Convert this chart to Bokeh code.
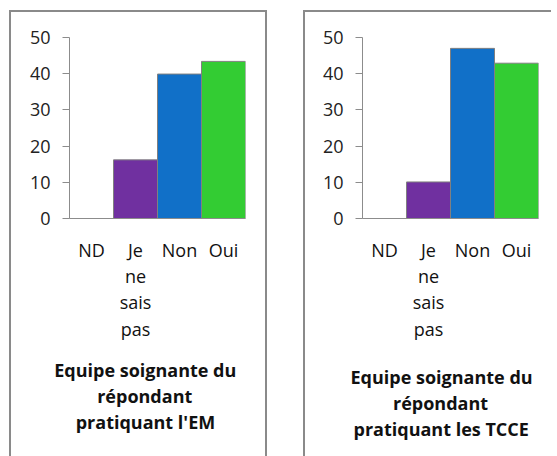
import json
from bokeh.plotting import figure
from bokeh.layouts import row
from bokeh.models import Title, FixedTicker, CustomJSTickFormatter
from bokeh.embed import file_html
from bokeh.resources import INLINE

categories = ["ND", "Je ne sais pas", "Non", "Oui"]
category_labels = {"Je ne sais pas": "Je\nne\nsais\npas"}
values_em = [0.0, 16.2, 39.9, 43.4]
values_tcce = [0.0, 10.1, 47.0, 42.9]
colors = ["#7F7F7F", "#7030A0", "#1170C8", "#33CC33"]
y_ticks = [0, 10, 20, 30, 40, 50]
titles_em = ["Equipe soignante du", "répondant", "pratiquant  l'EM"]
titles_tcce = ["Equipe soignante du", "répondant", "pratiquant  les TCCE"]

FONT = "Open Sans"
BORDER = "2px solid #8A8A8A"
H = 480          # canvas taller than the window; the row clips it at the window's edge
VISIBLE_H = 446
LINE_H = 26      # height of one 18px title line


def make_panel(values, title_lines, title_widths, title_center, width, left, right,
               title_shift, extra_gap, styles):
    p = figure(x_range=categories, y_range=(0, 50), width=width, height=H,
               output_backend="svg", toolbar_location=None,
               min_border_left=left, min_border_right=right,
               min_border_top=25, min_border_bottom=H - 25 - 181)
    p.styles = styles
    p.x_range.range_padding = 0
    p.vbar(x=categories, top=values, width=1.0, fill_color=colors,
           line_color="#808080", line_width=1)
    p.xgrid.visible = False
    p.ygrid.visible = False
    p.outline_line_color = None

    ya = p.yaxis[0]
    ya.ticker = FixedTicker(ticks=y_ticks)
    ya.axis_line_color = "#8C8C8C"
    ya.major_tick_line_color = "#8C8C8C"
    ya.major_tick_out = 7
    ya.major_tick_in = 0
    ya.minor_tick_line_color = None
    ya.major_label_standoff = 12
    ya.major_label_text_font = FONT
    ya.major_label_text_font_size = "18px"
    ya.major_label_text_color = "#222222"

    xa = p.xaxis[0]
    xa.formatter = CustomJSTickFormatter(
        code="const m = %s; return (tick in m) ? m[tick] : tick;" % json.dumps(category_labels))
    xa.axis_line_color = "#8C8C8C"
    xa.major_tick_line_color = None
    xa.minor_tick_line_color = None
    xa.major_label_standoff = 13
    xa.major_label_text_font = FONT
    xa.major_label_text_font_size = "18px"
    xa.major_label_text_color = "#111111"
    xa.major_label_text_line_height = 1.1

    if extra_gap:
        # blank spacer line that only adds vertical room above the title block
        p.add_layout(Title(text=" ", text_font=FONT, text_font_size="18px",
                           standoff=extra_gap - LINE_H), "below")

    # alternating standoffs shift every title line down by title_shift pixels
    standoffs = [2 * title_shift, -2 * title_shift, 2 * title_shift]
    for line, w, s in zip(title_lines, title_widths, standoffs):
        t = Title(text=line, align="left", text_font=FONT,
                  text_font_size="18px", text_font_style="bold",
                  text_color="#111111", standoff=s,
                  offset=title_center - w / 2)
        p.add_layout(t, "below")
    return p


# title centre measured from the frame's left edge; approximate rendered widths
p1 = make_panel(values_em, titles_em, [182, 96, 139], 75.7, 258, 58, 24, 12, 0,
                {"border-left": BORDER, "border-top": BORDER, "border-right": BORDER})
p2 = make_panel(values_tcce, titles_tcce, [182, 97, 176], 79, 248, 57, 15, 12, 7,
                {"border-left": BORDER, "border-top": BORDER})

layout = row(p1, p2, spacing=36, margin=(10, 0, 0, 9),
             styles={"max-height": "%dpx" % VISIBLE_H, "overflow": "hidden"})
open("out.html", "w").write(file_html(layout, INLINE))
